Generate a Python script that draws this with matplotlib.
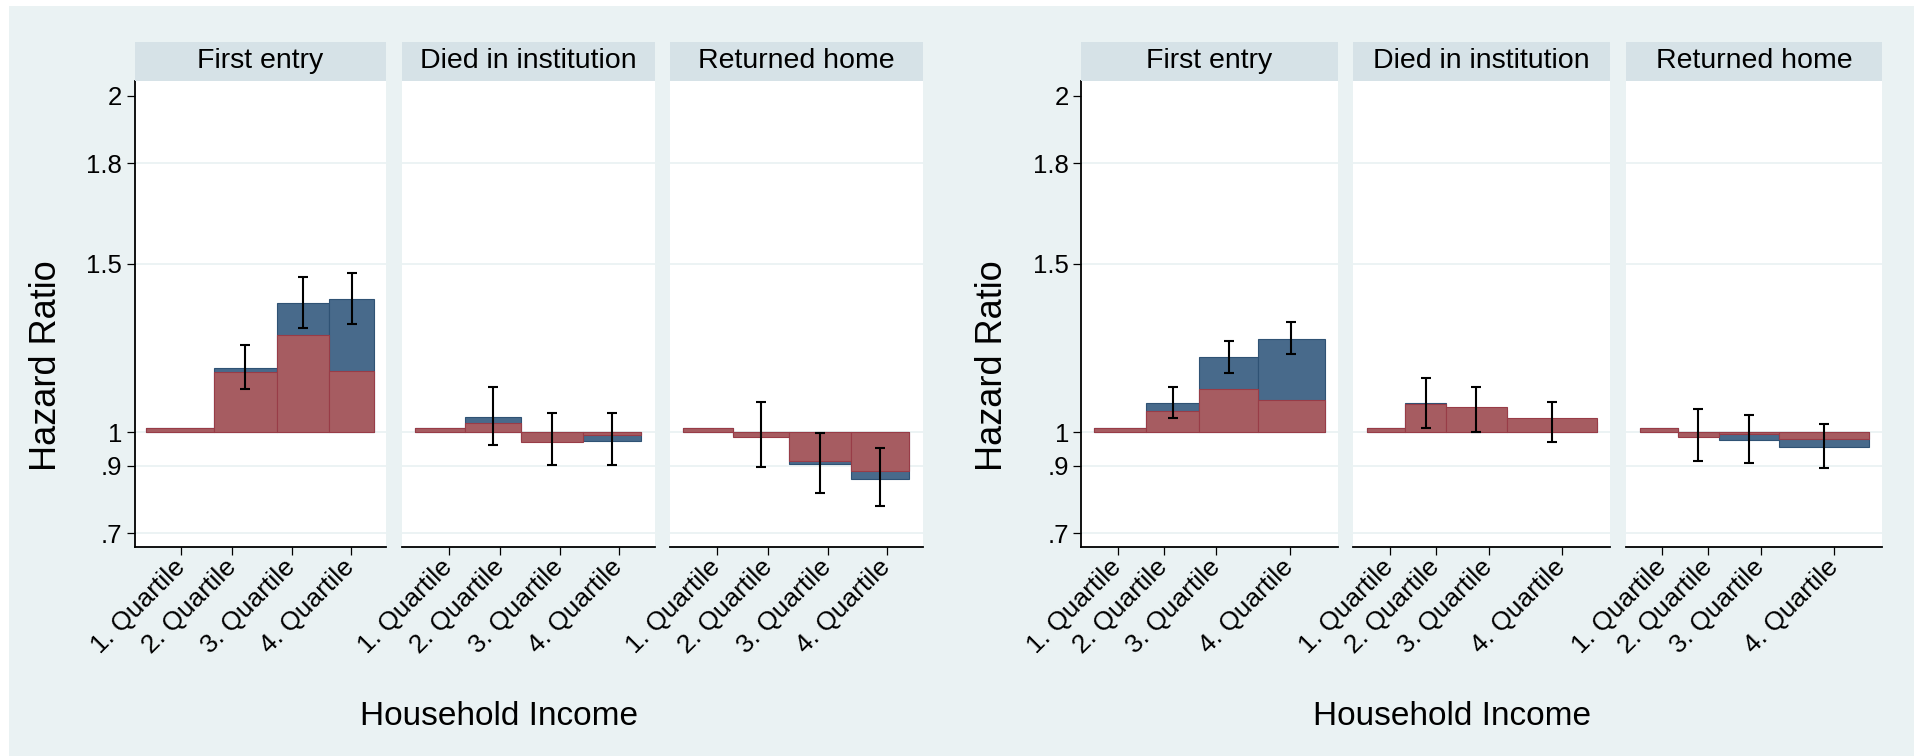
import matplotlib
matplotlib.use("Agg")
import matplotlib.pyplot as plt
from matplotlib.patches import Rectangle
import numpy as np

plt.rcParams['font.family'] = ['Liberation Sans', 'DejaVu Sans']

W, H = 1914, 756
nan = np.nan

panel_titles = ["First entry", "Died in institution", "Returned home"]
quartile_labels = ["1. Quartile", "2. Quartile", "3. Quartile", "4. Quartile"]
y_ticks = [0.7, 0.9, 1.0, 1.5, 1.8, 2.0]
y_ticklabels = [".7", ".9", "1", "1.5", "1.8", "2"]
grid_values = [0.7, 0.9, 1.0, 1.5, 1.8]

# income scale (0-100 within a panel): quartile label positions and bar boundaries
left_tick_pos = [18.6, 38.9, 62.4, 85.8]
right_tick_pos = [14.2, 32.1, 52.7, 81.3]
left_entry_edges = [4.7, 31.5, 56.4, 77.4, 95.0]
left_exit_edges = [5.3, 25.0, 47.3, 71.6, 94.8]
right_entry_edges = [4.9, 25.3, 46.1, 68.8, 95.0]
right_exit_edges = [5.3, 20.2, 36.3, 59.7, 94.9]

# left model: hazard ratios (base model, adjusted model) and 95% CI of base model
left_entry_hr = [1.012, 1.191, 1.383, 1.396]
left_entry_adj = [1.012, 1.178, 1.288, 1.183]
left_entry_lo = [nan, 1.127, 1.310, 1.322]
left_entry_hi = [nan, 1.258, 1.461, 1.474]

left_died_hr = [1.012, 1.045, 0.977, 0.975]
left_died_adj = [1.012, 1.027, 0.970, 0.991]
left_died_lo = [nan, 0.963, 0.901, 0.903]
left_died_hi = [nan, 1.135, 1.056, 1.056]

left_home_hr = [1.012, 0.991, 0.904, 0.862]
left_home_adj = [1.012, 0.987, 0.913, 0.883]
left_home_lo = [nan, 0.897, 0.819, 0.780]
left_home_hi = [nan, 1.090, 0.997, 0.954]

# right model
right_entry_hr = [1.012, 1.088, 1.224, 1.278]
right_entry_adj = [1.012, 1.062, 1.129, 1.095]
right_entry_lo = [nan, 1.042, 1.177, 1.232]
right_entry_hi = [nan, 1.135, 1.271, 1.326]

right_died_hr = [1.012, 1.086, 1.066, 1.031]
right_died_adj = [1.012, 1.083, 1.074, 1.043]
right_died_lo = [nan, 1.013, 1.000, 0.971]
right_died_hi = [nan, 1.160, 1.133, 1.091]

right_home_hr = [1.012, 0.990, 0.977, 0.955]
right_home_adj = [1.012, 0.987, 0.995, 0.981]
right_home_lo = [nan, 0.913, 0.908, 0.892]
right_home_hi = [nan, 1.069, 1.051, 1.023]

BG = "#EAF2F3"
STRIP = "#D6E2E7"
BLUE = "#486A8B"
BLUE_EDGE = "#2F5274"
RED = "#A65C61"
RED_EDGE = "#983C47"

fig = plt.figure(figsize=(W / 100, H / 100), dpi=100)
fig.patch.set_facecolor("white")
fig.add_artist(Rectangle((9 / W, 0), 1 - 9 / W, (H - 6) / H,
                         transform=fig.transFigure, facecolor=BG,
                         edgecolor="none", zorder=-10))

PLOT_TOP, PLOT_BOT = 81, 546.5
STRIP_TOP = 42

groups = [
    dict(cols=[(134.5, 386.4), (401.9, 654.6), (670.0, 922.5)],
         ticks=left_tick_pos,
         edges=[left_entry_edges, left_exit_edges, left_exit_edges],
         hr=[left_entry_hr, left_died_hr, left_home_hr],
         adj=[left_entry_adj, left_died_adj, left_home_adj],
         lo=[left_entry_lo, left_died_lo, left_home_lo],
         hi=[left_entry_hi, left_died_hi, left_home_hi],
         ylab_x=47, xlab_x=499),
    dict(cols=[(1081.4, 1337.5), (1353.2, 1610.0), (1626.0, 1882.3)],
         ticks=right_tick_pos,
         edges=[right_entry_edges, right_exit_edges, right_exit_edges],
         hr=[right_entry_hr, right_died_hr, right_home_hr],
         adj=[right_entry_adj, right_died_adj, right_home_adj],
         lo=[right_entry_lo, right_died_lo, right_home_lo],
         hi=[right_entry_hi, right_died_hi, right_home_hi],
         ylab_x=992, xlab_x=1452),
]

for g in groups:
    for i, (x0, x1) in enumerate(g["cols"]):
        ax = fig.add_axes([x0 / W, 1 - PLOT_BOT / H, (x1 - x0) / W,
                           (PLOT_BOT - PLOT_TOP) / H])
        ax.set_facecolor("white")
        ax.set_xlim(0, 100)
        ax.set_ylim(0.66, 2.044)

        for gv in grid_values:
            ax.axhline(gv, color=BG, lw=1.3, zorder=0)

        edges = np.array(g["edges"][i])
        lefts = edges[:-1]
        widths = np.diff(edges)
        centers = lefts + widths / 2
        hr = np.array(g["hr"][i])
        adj = np.array(g["adj"][i])
        lo = np.array(g["lo"][i])
        hi = np.array(g["hi"][i])

        ax.bar(lefts, hr - 1, bottom=1, width=widths, align="edge",
               color=BLUE, edgecolor=BLUE_EDGE, linewidth=0.8, zorder=2)
        ax.bar(lefts, adj - 1, bottom=1, width=widths, align="edge",
               color=RED, edgecolor=RED_EDGE, linewidth=0.8, zorder=3)

        ok = ~np.isnan(lo)
        ax.errorbar(centers[ok], hr[ok],
                    yerr=[hr[ok] - lo[ok], hi[ok] - hr[ok]],
                    fmt="none", ecolor="black", elinewidth=1.5,
                    capsize=3.8, capthick=1.5, zorder=4)

        for side in ("top", "right"):
            ax.spines[side].set_visible(False)
        ax.spines["bottom"].set_linewidth(1.3)
        ax.spines["bottom"].set_color("black")
        if i == 0:
            ax.spines["left"].set_linewidth(1.3)
            ax.spines["left"].set_color("black")
            ax.set_yticks(y_ticks)
            ax.set_yticklabels(y_ticklabels, fontsize=18.5)
            ax.tick_params(axis="y", length=6, width=0.9, pad=3)
        else:
            ax.spines["left"].set_visible(False)
            ax.set_yticks([])

        ax.set_xticks(g["ticks"])
        ax.set_xticklabels(quartile_labels, rotation=45, ha="right",
                           va="center", rotation_mode="anchor", fontsize=19)
        ax.tick_params(axis="x", length=6, width=0.9, pad=6)

        # panel strip
        fig.add_artist(Rectangle((x0 / W, 1 - PLOT_TOP / H), (x1 - x0) / W,
                                 (PLOT_TOP - STRIP_TOP) / H,
                                 transform=fig.transFigure, facecolor=STRIP,
                                 edgecolor="none"))
        fig.text((x0 + x1) / 2 / W, 1 - (PLOT_TOP + STRIP_TOP) / 2 / H,
                 panel_titles[i], ha="center", va="center", fontsize=20.5)

    fig.text(g["ylab_x"] / W, 1 - 366 / H, "Hazard Ratio", rotation=90,
             ha="center", va="center", fontsize=26)
    fig.text(g["xlab_x"] / W, 1 - 725 / H, "Household Income",
             ha="center", va="baseline", fontsize=24)

fig.savefig("out.png", dpi=100, facecolor=fig.get_facecolor())
